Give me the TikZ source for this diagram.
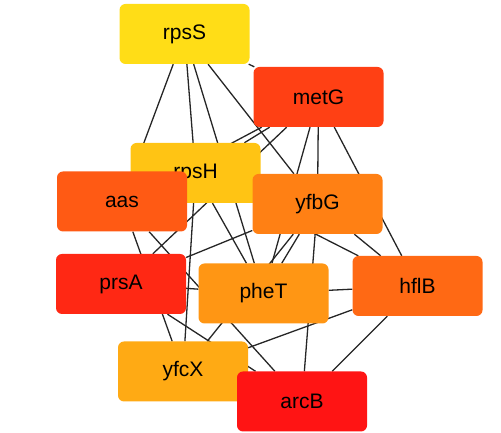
\documentclass[tikz,border=0pt]{standalone}
\usepackage{fontspec}
\setmainfont{Liberation Sans}
\usetikzlibrary{backgrounds}

\definecolor{crpsS}{HTML}{FFDD17}
\definecolor{crpsH}{HTML}{FFC414}
\definecolor{cyfcX}{HTML}{FFAA14}
\definecolor{cpheT}{HTML}{FF9614}
\definecolor{cyfbG}{HTML}{FF8014}
\definecolor{chflB}{HTML}{FF6914}
\definecolor{caas}{HTML}{FF5A14}
\definecolor{cmetG}{HTML}{FF4014}
\definecolor{cprsA}{HTML}{FF2814}
\definecolor{carcB}{HTML}{FF1414}

\tikzset{
  gene/.style={rectangle, rounded corners=6pt, minimum width=130pt,
    minimum height=60pt, inner sep=0pt, font=\fontsize{21}{25}\selectfont},
  link/.style={line width=1.3pt, black!85}
}

\begin{document}
\begin{tikzpicture}[x=1pt,y=1pt]
            \useasboundingbox (0,0) rectangle (501,433);

            \node[gene, fill=crpsS] (rpsS) at (184.5,399) {rpsS};
            \node[gene, fill=cmetG] (metG) at (318.5,336) {metG};
            \node[gene, fill=crpsH] (rpsH) at (195.5,260) {rpsH};
            \node[gene, fill=caas] (aas) at (122,231.5) {aas};
            \node[gene, fill=cyfbG] (yfbG) at (317.5,229) {yfbG};
            \node[gene, fill=cprsA] (prsA) at (121,149) {prsA};
            \node[gene, fill=cpheT] (pheT) at (263.5,139.5) {pheT};
            \node[gene, fill=chflB] (hflB) at (417.5,147) {hflB};
            \node[gene, fill=cyfcX] (yfcX) at (183,61.5) {yfcX};
            \node[gene, fill=carcB] (arcB) at (302,31.5) {arcB};

            \begin{scope}[on background layer]
            \draw[link] (rpsS) -- (metG);
            \draw[link] (rpsS) -- (aas);
            \draw[link] (rpsS) -- (rpsH);
            \draw[link] (rpsS) -- (pheT);
            \draw[link] (rpsS) -- (yfbG);

            \draw[link] (metG) -- (aas);
            \draw[link] (metG) -- (rpsH);
            \draw[link] (metG) -- (prsA);
            \draw[link] (metG) -- (pheT);
            \draw[link] (metG) -- (yfbG);
            \draw[link] (metG) -- (hflB);

            \draw[link] (rpsH) -- (pheT);
            \draw[link] (rpsH) -- (yfcX);
            \draw[link] (rpsH) -- (hflB);

            \draw[link] (aas) -- (arcB);
            \draw[link] (aas) -- (yfcX);

            \draw[link] (prsA) -- (yfbG);
            \draw[link] (prsA) -- (pheT);
            \draw[link] (prsA) -- (arcB);

            \draw[link] (yfbG) -- (pheT);
            \draw[link] (yfbG) -- (yfcX);
            \draw[link] (yfbG) -- (arcB);
            \draw[link] (yfbG) -- (hflB);

            \draw[link] (pheT) -- (hflB);
            \draw[link] (hflB) -- (yfcX);
            \draw[link] (hflB) -- (arcB);
            \end{scope}
        \end{tikzpicture}
\end{document}
